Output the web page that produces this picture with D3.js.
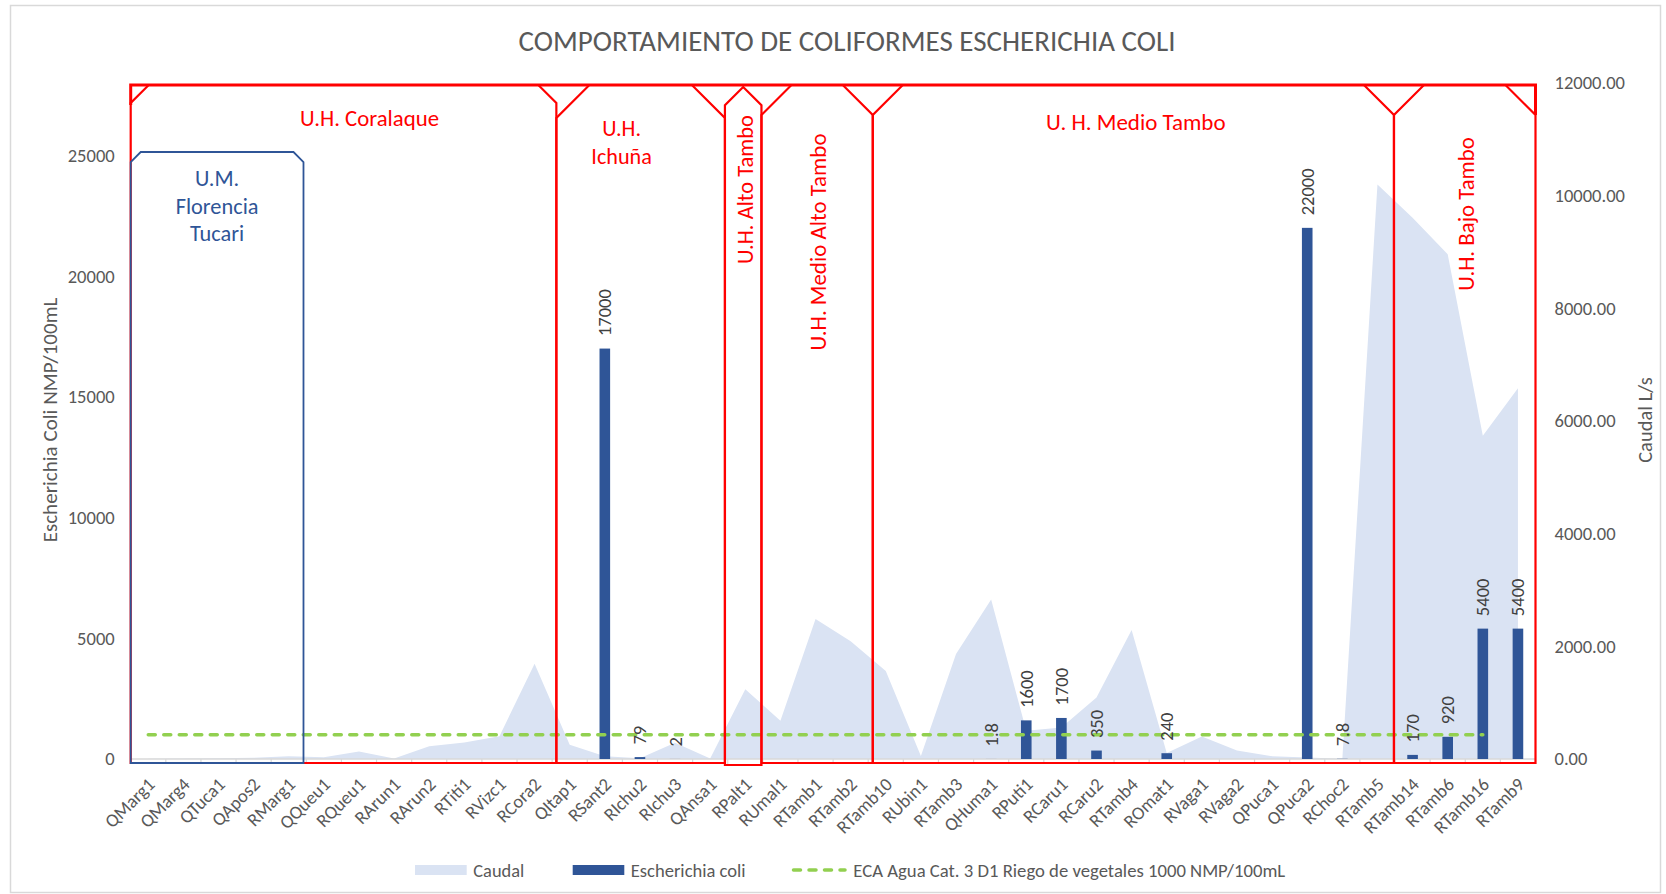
<!DOCTYPE html>
<html><head><meta charset="utf-8">
<script src="https://cdn.jsdelivr.net/npm/d3@7"></script>
<style>html,body{margin:0;padding:0;background:#fff;}svg{display:block;font-family:Carlito,Calibri,Lato,sans-serif;}</style>
</head><body>
<svg id="chart" width="1666" height="894"></svg>
<script>
// ---------- data ----------
const categories = ["QMarg1","QMarg4","QTuca1","QApos2","RMarg1","QQueu1","RQueu1","RArun1","RArun2","RTiti1","RVizc1","RCora2","QItap1","RSant2","RIchu2","RIchu3","QAnsa1","RPalt1","RUmal1","RTamb1","RTamb2","RTamb10","RUbin1","RTamb3","QHuma1","RPuti1","RCaru1","RCaru2","RTamb4","ROmat1","RVaga1","RVaga2","QPuca1","QPuca2","RChoc2","RTamb5","RTamb14","RTamb6","RTamb16","RTamb9"];
const caudal = [5,10,15,20,50,30,135,8,225,295,405,1690,255,50,12,290,8,1240,680,2485,2090,1560,55,1865,2830,500,560,1090,2290,105,400,150,50,25,5,10200,9610,8960,5740,6580];
const ecoli = [null,null,null,null,null,null,null,null,null,null,null,null,null,17000,79,2,null,null,null,null,null,null,null,null,1.8,1600,1700,350,null,240,null,null,null,22000,7.8,null,170,920,5400,5400];
const ecoliLabels = [null,null,null,null,null,null,null,null,null,null,null,null,null,"17000","79","2",null,null,null,null,null,null,null,null,"1.8","1600","1700","350",null,"240",null,null,null,"22000","7.8",null,"170","920","5400","5400"];
const eca = [1000,1000,1000,1000,1000,1000,1000,1000,1000,1000,1000,1000,1000,1000,1000,1000,1000,1000,1000,1000,1000,1000,1000,1000,1000,1000,1000,1000,1000,1000,1000,1000,1000,1000,1000,1000,1000,1000,1000,null];
const leftTicks = [0,5000,10000,15000,20000,25000];
const rightTicks = [0,2000,4000,6000,8000,10000,12000];
const leftMax = 28000, rightMax = 12000;
// hydrographic unit boxes (in category units)
const redUnits = [
  {name:["U.H. Coralaque"], from:0, to:12.12},
  {name:["U.H.","Ichuña"], from:12.12, to:16.92},
  {name:["U.H. Alto Tambo"], from:16.92, to:17.96},
  {name:["U.H. Medio Alto Tambo"], from:17.96, to:21.13},
  {name:["U. H. Medio Tambo"], from:21.13, to:35.97},
  {name:["U.H. Bajo Tambo"], from:35.97, to:40}
];
const blueUnit = {name:["U.M.","Florencia","Tucari"], from:0, to:4.92};

// ---------- layout ----------
const svg = d3.select("#chart");
const X0 = 130.7, X1 = 1535.5, YT = 83, YB = 759;
const FONT = "Carlito,Calibri,Lato,sans-serif";
const GRAY = "#595959";

svg.append("rect").attr("x",10.5).attr("y",5.5).attr("width",1650).attr("height",887)
  .attr("fill","#fff").attr("stroke","#D9D9D9").attr("stroke-width",1.5);

const x = d3.scaleBand().domain(categories).range([X0,X1]).padding(0);
const xu = d3.scaleLinear().domain([0,categories.length]).range([X0,X1]);
const yL = d3.scaleLinear().domain([0,leftMax]).range([YB,YT]);
const yR = d3.scaleLinear().domain([0,rightMax]).range([YB,YT]);
const cx = c => x(c) + x.bandwidth()/2;

function fit(sel, w){
  const n = sel.node(); const cur = n.getComputedTextLength();
  const fs = parseFloat(sel.attr("font-size"));
  sel.attr("font-size", (fs*w/cur).toFixed(2));
  return fs*w/cur;
}

// measure base size for numbers
const probe = svg.append("text").attr("font-size",18).attr("font-family",FONT).text("25000");
const NUMFS = fit(probe, 47); probe.remove();

// title
const title = svg.append("text").attr("x",847).attr("y",41).attr("text-anchor","middle")
  .attr("dominant-baseline","central").attr("fill",GRAY).attr("font-size",26).attr("font-family",FONT)
  .text("COMPORTAMIENTO DE COLIFORMES ESCHERICHIA COLI");
fit(title, 657);

// caudal area (right axis)
const area = d3.area().x((d,i)=>cx(categories[i])).y0(yR(0)).y1(d=>yR(d));
svg.append("path").datum(caudal).attr("d",area).attr("fill","#DAE3F3");

// category axis line + ticks
svg.append("line").attr("x1",X0).attr("x2",X1).attr("y1",YB).attr("y2",YB).attr("stroke","#D9D9D9").attr("stroke-width",1.5);
const bounds = categories.map(c=>x(c)).concat([X1]);
svg.append("g").selectAll("line").data(bounds).join("line")
  .attr("x1",d=>d).attr("x2",d=>d).attr("y1",YB).attr("y2",YB+5).attr("stroke","#D9D9D9").attr("stroke-width",1.2);

// bars
const bw = 10.6;
svg.append("g").selectAll("rect").data(categories.map((c,i)=>({c,v:ecoli[i]})).filter(d=>d.v!=null)).join("rect")
  .attr("x",d=>cx(d.c)-bw/2).attr("width",bw).attr("y",d=>yL(d.v)).attr("height",d=>YB-yL(d.v)).attr("fill","#2F5597");

// ECA line
const ecaLine = d3.line().defined(d=>d!=null).x((d,i)=>cx(categories[i])).y(d=>yL(d));
svg.append("path").datum(eca).attr("d",ecaLine).attr("fill","none").attr("stroke","#92D050")
  .attr("stroke-width",3.5).attr("stroke-dasharray","7,8.5").attr("stroke-linecap","round");

// data labels
svg.append("g").selectAll("text").data(categories.map((c,i)=>({c,v:ecoli[i],t:ecoliLabels[i]})).filter(d=>d.v!=null)).join("text")
  .attr("transform",d=>`translate(${cx(d.c)},${yL(d.v)-12.5}) rotate(-90)`)
  .attr("text-anchor","start").attr("dominant-baseline","central").attr("fill","#404040")
  .attr("font-size",NUMFS).attr("font-family",FONT).text(d=>d.t);

// left axis
const gl = svg.append("g").attr("transform",`translate(${X0},0)`)
  .call(d3.axisLeft(yL).tickValues(leftTicks).tickSize(0).tickPadding(16).tickFormat(d3.format("d")));
gl.select(".domain").remove();
gl.selectAll("text").attr("fill",GRAY).attr("font-size",NUMFS).attr("font-family",FONT);
// right axis
const gr = svg.append("g").attr("transform",`translate(${X1},0)`)
  .call(d3.axisRight(yR).tickValues(rightTicks).tickSize(0).tickPadding(19).tickFormat(d3.format(".2f")));
gr.select(".domain").remove();
gr.selectAll("text").attr("fill",GRAY).attr("font-size",NUMFS).attr("font-family",FONT);

// category labels
svg.append("g").selectAll("text").data(categories).join("text")
  .attr("transform",d=>`translate(${cx(d)+3},${YB+22}) rotate(-45)`)
  .attr("text-anchor","end").attr("dominant-baseline","central").attr("fill",GRAY)
  .attr("font-size",NUMFS).attr("font-family",FONT).text(d=>d);

// axis titles
const lt = svg.append("text").attr("transform","translate(50,420) rotate(-90)").attr("text-anchor","middle")
  .attr("dominant-baseline","central").attr("fill",GRAY).attr("font-size",NUMFS).attr("font-family",FONT)
  .text("Escherichia Coli NMP/100mL");
fit(lt, 244.5);
const rt = svg.append("text").attr("transform","translate(1645,420) rotate(-90)").attr("text-anchor","middle")
  .attr("dominant-baseline","central").attr("fill",GRAY).attr("font-size",NUMFS).attr("font-family",FONT)
  .text("Caudal L/s");
fit(rt, 85.7);

// ---------- unit boxes ----------
const RED = "#FF0000", TOP = 85, BOT = 763;
function snipPath(xa, xb, yt, yb, sl, sr){
  return `M${xa},${yb} L${xa},${yt+sl} L${xa+sl},${yt} L${xb-sr},${yt} L${xb},${yt+sr} L${xb},${yb} Z`;
}
const snips = [[18,18],[33,33],null,[30,30],[30,30],[30,30]];
redUnits.forEach((u,i)=>{
  const xa = xu(u.from), xb = xu(u.to);
  let d;
  if (snips[i]===null){
    const h = (xb-xa)/2;
    d = `M${xa},${BOT+2} L${xa},${TOP+2+h} L${xa+h},${TOP+2} L${xb},${TOP+2+h} L${xb},${BOT+2} Z`;
  } else d = snipPath(xa,xb,TOP,BOT,snips[i][0],snips[i][1]);
  svg.append("path").attr("d",d).attr("fill","none").attr("stroke",RED).attr("stroke-width",2.2).attr("stroke-linejoin","miter");
});
// outer top frame
svg.append("path").attr("d",`M${xu(0)},${TOP+20} L${xu(0)},${TOP} L${xu(40)},${TOP} L${xu(40)},${TOP+30}`)
  .attr("fill","none").attr("stroke",RED).attr("stroke-width",3);

// blue unit
{
  const xa = xu(blueUnit.from), xb = xu(blueUnit.to);
  svg.append("path").attr("d",snipPath(xa,xb,152,BOT,10,10)).attr("fill","none").attr("stroke","#2F5597").attr("stroke-width",1.8);
  const ys=[178.5,206,233.5];
  const tp = svg.append("text").attr("font-size",19).attr("font-family",FONT).text(blueUnit.name[1]);
  const BFS = fit(tp,82.9); tp.remove();
  blueUnit.name.forEach((t,k)=>{
    svg.append("text").attr("x",(xa+xb)/2).attr("y",ys[k]).attr("text-anchor","middle").attr("dominant-baseline","central")
      .attr("fill","#2F5597").attr("font-size",BFS).attr("font-family",FONT).text(t);
  });
}

// red labels
function redText(xp, yp, txt, w, rot){
  const t = svg.append("text").attr("transform",`translate(${xp},${yp})`+(rot?" rotate(-90)":""))
    .attr("text-anchor","middle").attr("dominant-baseline","central").attr("fill",RED)
    .attr("font-size",19).attr("font-family",FONT).text(txt);
  if (w) fit(t,w);
  return t;
}
redText(369.5,118,"U.H. Coralaque",139);
const ich = redText(621.6,156,"Ichuña",60.6);
redText(621.6,128.5,"U.H.").attr("font-size",ich.attr("font-size"));
redText(745.5,189.5,"U.H. Alto Tambo",149,true);
redText(817.5,242,"U.H. Medio Alto Tambo",217,true);
redText(1135.8,122,"U. H. Medio Tambo",179.6);
redText(1465.5,214,"U.H. Bajo Tambo",153.7,true);

// ---------- legend ----------
const LY = 870;
svg.append("rect").attr("x",415).attr("y",LY-5).attr("width",51.7).attr("height",10).attr("fill","#DAE3F3");
svg.append("rect").attr("x",572.7).attr("y",LY-5).attr("width",51.6).attr("height",10).attr("fill","#2F5597");
svg.append("line").attr("x1",793.5).attr("x2",845).attr("y1",LY).attr("y2",LY).attr("stroke","#92D050")
  .attr("stroke-width",3.5).attr("stroke-dasharray","7,8.5").attr("stroke-linecap","round");
const lg = [[473.3,"Caudal",51],[630.7,"Escherichia coli",115],[853.3,"ECA Agua Cat. 3 D1 Riego de vegetales 1000 NMP/100mL",432]];
lg.forEach(([lx,t,w])=>{
  const e = svg.append("text").attr("x",lx).attr("y",LY).attr("dominant-baseline","central").attr("fill",GRAY)
    .attr("font-size",18).attr("font-family",FONT).text(t);
  fit(e,w);
});
</script>
</body></html>
